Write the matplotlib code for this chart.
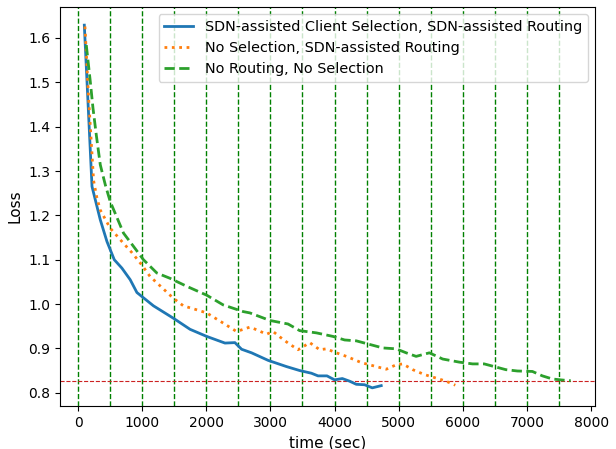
#!/usr/bin/env python3
"""Loss vs wall-clock time for the three client-selection / routing setups."""

import matplotlib

matplotlib.use("Agg")
import matplotlib.pyplot as plt

# aggregation round boundaries (sec)
ROUND_TIMES = [0, 500, 1000, 1500, 2000, 2500, 3000, 3500, 4000,
               4500, 5000, 5500, 6000, 6500, 7000, 7500]
TARGET_LOSS = 0.827

SDN_T = [98, 218, 347, 451, 565, 684, 813, 918, 1176, 1487, 1747, 2006, 2291,
         2446, 2551, 2706, 2964, 3250, 3457, 3639, 3742, 3882, 4001, 4121,
         4235, 4339, 4468, 4588, 4728]
SDN_LOSS = [1.629, 1.265, 1.190, 1.141, 1.100, 1.081, 1.055, 1.026, 0.996,
            0.968, 0.943, 0.927, 0.912, 0.913, 0.898, 0.890, 0.873, 0.859,
            0.850, 0.844, 0.838, 0.838, 0.829, 0.832, 0.826, 0.819, 0.818,
            0.811, 0.816]

NOSEL_T = [108, 165, 243, 295, 347, 502, 684, 840, 995, 1124, 1280, 1487,
           1642, 1851, 2006, 2264, 2473, 2680, 2784, 2939, 3042, 3146, 3275,
           3431, 3535, 3613, 3768, 3872, 4028, 4184, 4417, 4597, 4806, 4961,
           5064, 5219, 5401, 5583, 5739, 5883]
NOSEL_LOSS = [1.626, 1.464, 1.278, 1.239, 1.212, 1.171, 1.141, 1.116, 1.088,
              1.062, 1.041, 1.013, 0.996, 0.987, 0.980, 0.957, 0.938, 0.948,
              0.942, 0.932, 0.938, 0.926, 0.912, 0.897, 0.906, 0.913, 0.897,
              0.899, 0.890, 0.882, 0.868, 0.861, 0.853, 0.863, 0.865, 0.852,
              0.841, 0.833, 0.826, 0.817]

NONE_T = [129, 191, 233, 285, 347, 425, 502, 709, 865, 1020, 1229, 1435,
          1695, 2006, 2264, 2575, 2680, 2991, 3275, 3457, 3717, 3975, 4157,
          4339, 4520, 4753, 4961, 5117, 5272, 5479, 5686, 5945, 6152, 6334,
          6490, 6671, 6852, 7085, 7241, 7397, 7527, 7683]
NONE_LOSS = [1.584, 1.502, 1.442, 1.381, 1.314, 1.269, 1.231, 1.160, 1.130,
             1.100, 1.070, 1.058, 1.040, 1.020, 0.998, 0.983, 0.980, 0.963,
             0.955, 0.940, 0.935, 0.927, 0.919, 0.917, 0.910, 0.901, 0.899,
             0.890, 0.882, 0.890, 0.876, 0.869, 0.865, 0.865, 0.859, 0.852,
             0.849, 0.848, 0.838, 0.831, 0.829, 0.827]

LABELS = ["SDN-assisted Client Selection, SDN-assisted Routing",
          "No Selection, SDN-assisted Routing",
          "No Routing, No Selection"]


def main() -> None:
    fig = plt.figure(figsize=(6.16, 4.49), dpi=100)
    ax = fig.add_axes([0.0974, 0.0958, 0.8686, 0.8886])

    ax.plot(SDN_T, SDN_LOSS, "-", color="#1f77b4", lw=2, label=LABELS[0], zorder=3)
    ax.plot(NOSEL_T, NOSEL_LOSS, ":", color="#ff7f0e", lw=2, label=LABELS[1], zorder=3)
    ax.plot(NONE_T, NONE_LOSS, "--", color="#2ca02c", lw=2, label=LABELS[2], zorder=3)

    for t in ROUND_TIMES:
        ax.axvline(t, color="g", ls="--", lw=1, zorder=1)
    ax.axhline(TARGET_LOSS, color="#cc2222", ls="--", lw=0.8, zorder=1)

    ax.set_title("Loss")
    ax.set_xlabel("time (sec)", fontsize=11)
    ax.set_ylabel("Loss", fontsize=11)
    ax.legend(loc="upper right", fontsize=10.4)

    fig.savefig("out.png", dpi=100)
    plt.close(fig)


if __name__ == "__main__":
    main()
